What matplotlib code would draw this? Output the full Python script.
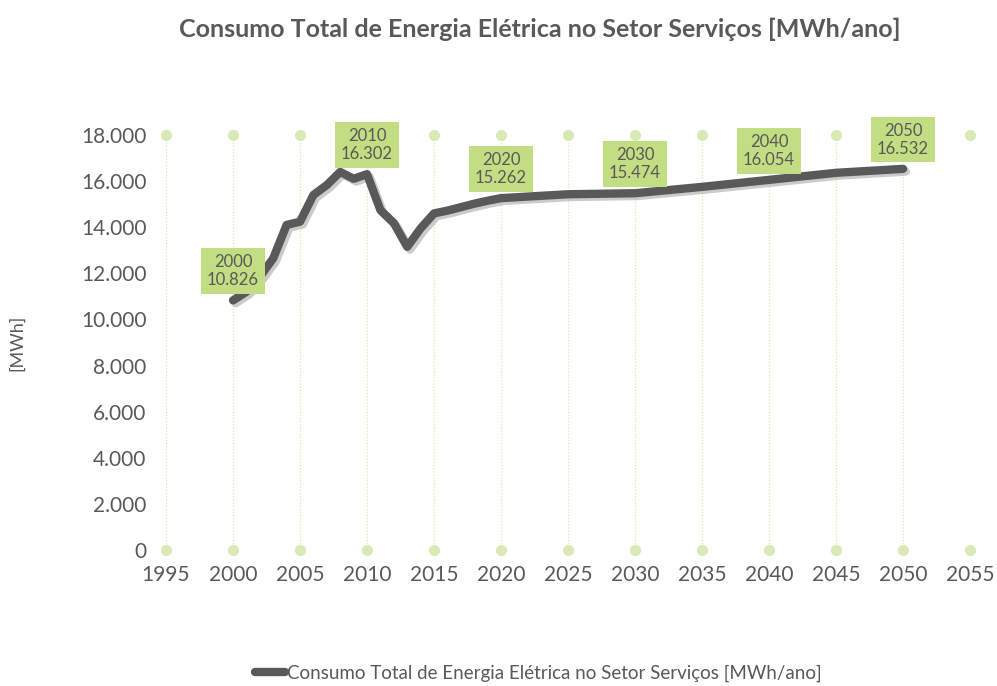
import matplotlib.pyplot as plt
import matplotlib.patheffects as pe
from matplotlib.lines import Line2D
from matplotlib.ticker import FuncFormatter

plt.rcParams['font.family'] = ['Lato', 'DejaVu Sans']

# data
years = [2000, 2001, 2002, 2003, 2004, 2005, 2006, 2007, 2008, 2009, 2010,
         2011, 2012, 2013, 2014, 2015, 2016, 2017, 2018, 2019, 2020,
         2025, 2030, 2035, 2040, 2045, 2050]
consumo = [10826, 11200, 11850, 12650, 14100, 14240, 15400, 15830, 16400, 16100, 16302,
           14740, 14180, 13150, 13950, 14600, 14720, 14870, 15020, 15150, 15262,
           15430, 15474, 15750, 16054, 16360, 16532]
label_years = [2000, 2010, 2020, 2030, 2040, 2050]
xticks = list(range(1995, 2056, 5))
yticks = list(range(0, 18001, 2000))

grey = '#595959'
green = '#C2DD82'
light = '#D9EAB5'

fig = plt.figure(figsize=(9.97, 6.86), dpi=100)
ax = fig.add_axes([0.1665, 0.1983, 0.8065, 0.6049])

# vertical dotted guides with dots at both ends
for x in xticks:
    ax.plot([x, x], [0, 18000], color=light, lw=0.9, ls=(0, (1, 1.5)), zorder=1)
    ax.plot([x, x], [0, 18000], 'o', color=light, ms=7, clip_on=False, zorder=2)

ax.plot(years, consumo, color=grey, lw=6, solid_capstyle='round', solid_joinstyle='round',
        zorder=3, path_effects=[pe.SimpleLineShadow(offset=(2, -2), shadow_color='#999999', alpha=0.5),
                                pe.Normal()])

for yr in label_years:
    v = consumo[years.index(yr)]
    ax.annotate(f"{yr}\n{v/1000:.3f}", xy=(yr, v), xytext=(0, 21), textcoords='offset points',
                ha='center', va='center', fontsize=12, color=grey, linespacing=1.15,
                bbox=dict(boxstyle='square,pad=0.35', fc=green, ec='none'), zorder=5)

ax.set_xlim(1995, 2055)
ax.set_ylim(0, 18000)
ax.set_xticks(xticks)
ax.set_yticks(yticks)
ax.yaxis.set_major_formatter(FuncFormatter(lambda v, p: f"{int(v):,}".replace(',', '.')))
ax.tick_params(length=0, labelsize=15, labelcolor=grey, pad=11)
ax.tick_params(axis='y', pad=14)
for s in ax.spines.values():
    s.set_visible(False)

ax.set_ylabel('[MWh]', fontsize=13, color=grey, labelpad=40)

fig.suptitle('Consumo Total de Energia Elétrica no Setor Serviços [MWh/ano]',
             x=0.541, y=0.975, fontsize=18, fontweight='bold', color=grey)

handle = Line2D([], [], color=grey, lw=6, solid_capstyle='round')
fig.legend([handle], ['Consumo Total de Energia Elétrica no Setor Serviços [MWh/ano]'],
           loc='center', bbox_to_anchor=(0.54, 0.018), frameon=False, fontsize=13.5,
           labelcolor=grey, handlelength=1.6, handletextpad=0.1)

fig.savefig('out.png', dpi=100)
